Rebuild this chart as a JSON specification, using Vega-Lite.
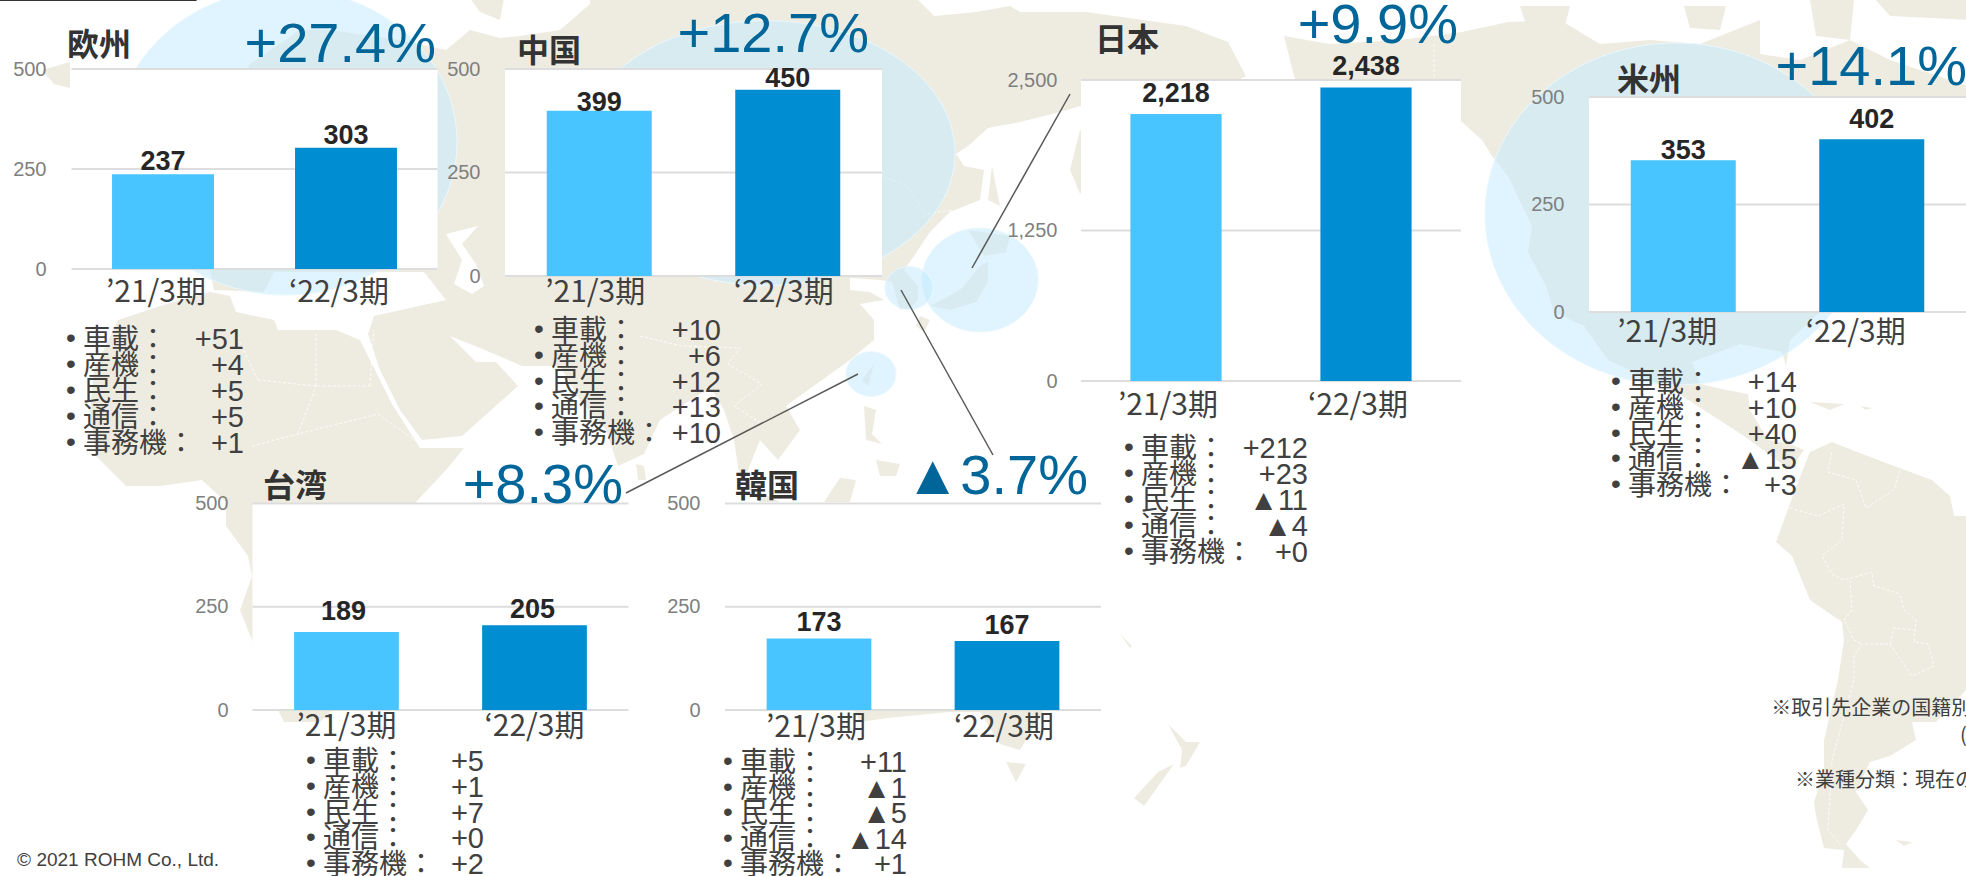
{"$schema":"https://vega.github.io/schema/vega-lite/v6.json","width":1966,"height":876,"padding":0,"autosize":{"type":"none"},"background":"#FFFFFF",
"config":{"view":{"stroke":null},"scale":{"pointPadding":0},
"axis":{"domain":false,"ticks":false,"tickSize":0,"grid":false,"labelOverlap":false,"labelFlush":false,"labelBound":false},
"axisX":{"labelAngle":0,"labelFont":"Noto Sans CJK JP","labelFontSize":30,"labelColor":"#404040"},
"axisY":{"labelFont":"Liberation Sans","labelFontSize":20,"labelColor":"#7F7F7F"},
"style":{"barlabel":{"font":"Liberation Sans","fontWeight":"bold","fontSize":27,"align":"center","baseline":"alphabetic"},
"ttl":{"font":"Noto Sans CJK JP","fontWeight":"bold","fontSize":32,"align":"left","baseline":"middle"},
"pct":{"font":"Liberation Sans","fontSize":56,"align":"right","baseline":"middle"},
"list":{"font":"Noto Sans CJK JP","fontSize":28,"align":"left","baseline":"middle"},
"val":{"font":"Liberation Sans","fontSize":29,"align":"right","baseline":"middle"},
"bul":{"font":"Liberation Sans","fontSize":28,"align":"center","baseline":"middle"},
"note":{"font":"Noto Sans CJK JP","fontSize":20,"align":"left","baseline":"middle"}}},
"datasets":{
"ticks500":[{"tick":0},{"tick":250},{"tick":500}],
"ticks2500":[{"tick":0},{"tick":1250},{"tick":2500}],
"eu":[{"region":"欧州","change":"+27.4%"}],"cn":[{"region":"中国","change":"+12.7%"}],"jp":[{"region":"日本","change":"+9.9%"}],"us":[{"region":"米州","change":"+14.1%"}],"tw":[{"region":"台湾","change":"+8.3%"}],"kr":[{"region":"韓国","change":"▲3.7%"}],
"sEu":[{"period":"’21/3期","sales":237},{"period":"‘22/3期","sales":303}],
"sCn":[{"period":"’21/3期","sales":399},{"period":"‘22/3期","sales":450}],
"sJp":[{"period":"’21/3期","sales":2218},{"period":"‘22/3期","sales":2438}],
"sUs":[{"period":"’21/3期","sales":353},{"period":"‘22/3期","sales":402}],
"sTw":[{"period":"’21/3期","sales":189},{"period":"‘22/3期","sales":205}],
"sKr":[{"period":"’21/3期","sales":173},{"period":"‘22/3期","sales":167}],
"bubbles":[{"region":"欧州","growth":27.4,"lon":143,"lat":71},{"region":"中国","growth":12.7,"lon":383,"lat":76.5},{"region":"日本","growth":9.9,"lon":490,"lat":140},{"region":"米州","growth":14.1,"lon":838,"lat":107},{"region":"台湾","growth":8.3,"lon":435.5,"lat":187},{"region":"韓国","growth":-3.7,"lon":454.5,"lat":144}],
"lEu":[{"segment":"車載：","change":"+51"},{"segment":"産機：","change":"+4"},{"segment":"民生：","change":"+5"},{"segment":"通信：","change":"+5"},{"segment":"事務機：","change":"+1"}],
"lCn":[{"segment":"車載：","change":"+10"},{"segment":"産機：","change":"+6"},{"segment":"民生：","change":"+12"},{"segment":"通信：","change":"+13"},{"segment":"事務機：","change":"+10"}],
"lJp":[{"segment":"車載：","change":"+212"},{"segment":"産機：","change":"+23"},{"segment":"民生：","change":"▲11"},{"segment":"通信：","change":"▲4"},{"segment":"事務機：","change":"+0"}],
"lUs":[{"segment":"車載：","change":"+14"},{"segment":"産機：","change":"+10"},{"segment":"民生：","change":"+40"},{"segment":"通信：","change":"▲15"},{"segment":"事務機：","change":"+3"}],
"lTw":[{"segment":"車載：","change":"+5"},{"segment":"産機：","change":"+1"},{"segment":"民生：","change":"+7"},{"segment":"通信：","change":"+0"},{"segment":"事務機：","change":"+2"}],
"lKr":[{"segment":"車載：","change":"+11"},{"segment":"産機：","change":"▲1"},{"segment":"民生：","change":"▲5"},{"segment":"通信：","change":"▲14"},{"segment":"事務機：","change":"+1"}]
},
"resolve":{"scale":{"x":"independent","y":"independent"},"axis":{"x":"independent","y":"independent"}},
"layer":[
{"data":{"values":{"type":"FeatureCollection","features":[
{"type":"Feature","properties":{"name":"Eurasia"},"geometry":{"type":"Polygon","coordinates":[[[223,25],[200,20],[165,15],[150,15],[125,32],[100,75],[105,135],[107,145],[132,146],[137,136],[212,136],[223,150],[187,158],[184,167],[190,185],[200,205],[211,220],[231,218],[259,193],[248,181],[238,181],[225,168],[240,174],[261,183],[280,183],[290,200],[303,215],[309,233],[322,227],[330,210],[350,197],[356,195],[362,205],[367,220],[370,240],[374,235],[380,220],[389,230],[400,215],[393,203],[404,195],[425,180],[437,170],[437,160],[430,152],[442,150],[435,146],[425,145],[425,139],[440,140],[446,141],[450,155],[455,154],[459,150],[459,143],[452,135],[457,128],[465,116],[475,106],[490,100],[492,85],[482,83],[478,77],[484,73],[494,64],[510,61],[530,56],[540,53],[600,50],[623,38],[614,21],[593,13],[543,6],[510,6],[505,3],[488,6],[467,8],[459,0],[295,-2],[295,2],[280,15],[260,18],[250,19],[235,15],[223,25]],[[223,117],[239,113],[231,122],[238,132],[242,143],[236,147],[227,142],[231,130],[223,117]]]}},
{"type":"Feature","properties":{"name":"Africa"},"geometry":{"type":"Polygon","coordinates":[[[59,160],[80,153],[105,146],[115,148],[118,156],[137,160],[139,165],[168,165],[180,170],[196,202],[210,224],[232,224],[223,235],[208,251],[195,300],[172,350],[160,361],[142,361],[139,355],[126,320],[120,305],[126,288],[124,278],[113,263],[113,251],[101,240],[80,243],[63,243],[48,228],[45,205],[47,185],[59,160]]]}},
{"type":"Feature","properties":{"name":"North America"},"geometry":{"type":"Polygon","coordinates":[[[642,18],[665,22],[700,20],[731,16],[754,11],[780,10],[800,22],[825,20],[850,22],[880,10],[880,27],[900,30],[925,20],[945,30],[990,45],[990,100],[910,156],[895,170],[893,183],[891,176],[870,172],[846,181],[850,192],[863,195],[874,197],[875,205],[884,220],[895,222],[902,225],[895,235],[872,218],[838,196],[804,180],[792,163],[777,156],[773,143],[764,126],[766,113],[754,88],[746,78],[741,70],[731,61],[650,50],[642,18]]]}},
{"type":"Feature","properties":{"name":"South America"},"geometry":{"type":"Polygon","coordinates":[[[916,221],[926,225],[947,233],[966,240],[975,248],[977,258],[983,258],[1000,265],[1010,300],[1000,345],[983,345],[968,361],[956,361],[958,370],[945,378],[935,381],[928,396],[934,405],[928,415],[923,422],[930,430],[935,434],[921,434],[922,425],[912,424],[908,408],[907,401],[912,386],[912,370],[919,340],[922,320],[921,311],[905,300],[896,278],[888,271],[892,260],[899,241],[905,226],[916,221]]]}},
{"type":"Feature","properties":{"name":"Australia"},"geometry":{"type":"Polygon","coordinates":[[[427,355],[430,361],[444,359],[475,356],[490,356],[500,372],[510,375],[521,357],[540,320],[520,260],[430,300],[427,355]]]}},
{"type":"Feature","properties":{"name":"Islands"},"geometry":{"type":"MultiPolygon","coordinates":[
[[[21,35],[35,31],[35,44],[27,42],[21,35]]],
[[[235,-1],[252,-1],[250,10],[240,6],[235,-1]]],
[[[484,115],[505,118],[503,126],[492,128],[484,115]]],
[[[494,131],[494,141],[488,151],[475,155],[465,153],[480,145],[490,133],[494,131]]],
[[[460,158],[465,160],[462,166],[458,163],[460,158]]],
[[[496,83],[500,103],[494,100],[496,83]]],
[[[540,65],[535,85],[540,97],[555,75],[540,65]]],
[[[437,182],[434,193],[431,190],[437,182]]],
[[[432,203],[438,205],[436,217],[441,222],[433,220],[432,203]]],
[[[438,230],[450,232],[448,238],[440,238],[438,230]]],
[[[412,251],[425,251],[428,240],[420,239],[412,251]]],
[[[372,242],[380,251],[390,251],[372,242]]],
[[[318,232],[322,233],[323,240],[319,240],[318,232]]],
[[[503,381],[513,382],[508,391],[503,381]]],
[[[584,362],[593,371],[600,371],[593,383],[590,384],[591,375],[584,362]]],
[[[587,382],[572,403],[567,399],[579,386],[587,382]]],
[[[560,317],[566,323],[565,324],[560,317]]],
[[[760,3],[785,3],[782,15],[765,18],[760,3]]],
[[[842,3],[863,3],[860,15],[845,14],[842,3]]],
[[[905,0],[927,0],[925,20],[908,18],[905,0]]],
[[[937,-1],[985,-1],[985,10],[945,8],[937,-1]]],
[[[905,201],[922,202],[915,205],[905,201]]],
[[[930,203],[936,204],[933,205],[930,203]]],
[[[948,420],[956,421],[952,423],[948,420]]]]}}
]},"format":{"type":"json","property":"features"}},
"projection":{"type":"identity","scale":2,"translate":[0,0]},"mark":{"type":"geoshape","fill":"#EEECE1","stroke":null},"encoding":{}},
{"data":{"values":{"type":"FeatureCollection","features":[
{"type":"Feature","properties":{"name":"Borders"},"geometry":{"type":"MultiLineString","coordinates":[
[[916,226],[914,236],[928,240],[933,254],[947,245],[950,235]],
[[895,254],[909,258],[922,252],[921,270],[911,278],[916,287],[922,290],[936,286],[937,293],[950,297],[952,305],[958,310],[957,321],[964,322],[967,333],[956,338],[945,322],[931,322],[927,328],[927,340],[916,380],[914,415],[920,422]],
[[925,290],[926,305],[922,310],[927,320],[931,322]],[[945,322],[947,314],[957,315]],
[[129,190],[158,193],[185,193]],[[158,193],[158,167]],[[129,190],[118,167]],[[185,193],[187,165]],[[149,217],[158,193]],[[189,207],[210,222]],[[126,223],[149,217],[189,207]],
[[320,168],[341,173],[370,174],[364,182],[381,192],[367,203],[381,212]],[[440,87],[453,93],[463,107],[476,105],[465,117]],[[717,22],[717,40]]]}}
]},"format":{"type":"json","property":"features"}},
"projection":{"type":"identity","scale":2,"translate":[0,0]},"mark":{"type":"geoshape","filled":false,"stroke":"#FFFFFF","strokeWidth":0.8,"strokeDash":[3,2]},"encoding":{}},
{"data":{"name":"bubbles"},"transform":[{"filter":"datum.region!=='中国'"}],"projection":{"type":"identity","scale":2,"translate":[0,0]},
"mark":{"type":"point","shape":"M-1,0A1,0.895,0,1,1,1,0A1,0.895,0,1,1,-1,0Z","filled":true,"fill":"#C2E9FE","fillOpacity":0.52,"opacity":1,"stroke":"#EAF8FF","strokeWidth":1},
"encoding":{"longitude":{"field":"lon","type":"quantitative"},"latitude":{"field":"lat","type":"quantitative"},"size":{"field":"growth","type":"quantitative","legend":null,"scale":{"domain":[-3.7,8.3,9.9,12.7,14.1,27.4],"range":[2304,2500,13456,142884,145924,116964]}}}},
{"data":{"name":"bubbles"},"transform":[{"filter":"datum.region==='中国'"}],"projection":{"type":"identity","scale":2,"translate":[0,0]},
"mark":{"type":"point","shape":"M-1,0A1,0.7,0,1,1,1,0A1,0.7,0,1,1,-1,0Z","filled":true,"fill":"#C2E9FE","fillOpacity":0.52,"opacity":1,"stroke":"#EAF8FF","strokeWidth":1},
"encoding":{"longitude":{"field":"lon","type":"quantitative"},"latitude":{"field":"lat","type":"quantitative"},"size":{"field":"growth","type":"quantitative","legend":null,"scale":{"domain":[-3.7,8.3,9.9,12.7,14.1,27.4],"range":[2304,2500,13456,142884,145924,116964]}}}},
{"data":{"values":{"type":"FeatureCollection","features":[
{"type":"Feature","properties":{"to":"日本"},"geometry":{"type":"LineString","coordinates":[[535,47],[486,134]]}},
{"type":"Feature","properties":{"to":"韓国"},"geometry":{"type":"LineString","coordinates":[[450.5,145],[496.5,227.5]]}},
{"type":"Feature","properties":{"to":"台湾"},"geometry":{"type":"LineString","coordinates":[[429,187],[313,246.5]]}}
]},"format":{"type":"json","property":"features"}},
"projection":{"type":"identity","scale":2,"translate":[0,0]},"mark":{"type":"geoshape","filled":false,"stroke":"#595959","strokeWidth":1.5},"encoding":{}},

{"data":{"name":"eu"},"mark":{"type":"rect","fill":"#FFFFFF"},"encoding":{"x":{"datum":0,"type":"quantitative","axis":null,"scale":{"domain":[0,1],"range":[71.5,437.5]}},"x2":{"datum":1},"y":{"datum":0,"type":"quantitative","title":null,"scale":{"domain":[0,500],"range":[269,69],"nice":false},"axis":{"orient":"left","zindex":1,"values":[0,250,500],"format":",.0f","offset":-71.5,"labelPadding":25.5}},"y2":{"datum":500}}},
{"data":{"name":"ticks500"},"mark":{"type":"rule","stroke":"#DDDDDD","strokeWidth":2},"encoding":{"x":{"datum":0,"type":"quantitative","axis":null,"scale":{"domain":[0,1],"range":[71.5,437.5]}},"x2":{"datum":1},"y":{"field":"tick","type":"quantitative","axis":null,"scale":{"domain":[0,500],"range":[269,69],"nice":false}}}},
{"data":{"name":"eu"},"mark":{"type":"text","style":"ttl","color":"#333333","dx":-4.5,"dy":-23},"encoding":{"x":{"datum":0,"type":"quantitative","axis":null,"scale":{"domain":[0,1],"range":[71.5,437.5]}},"y":{"datum":500,"type":"quantitative","axis":null,"scale":{"domain":[0,500],"range":[269,69],"nice":false}},"text":{"field":"region"}}},
{"data":{"name":"eu"},"mark":{"type":"text","style":"pct","color":"#006699","dx":-1.5,"dy":-24},"encoding":{"x":{"datum":1,"type":"quantitative","axis":null,"scale":{"domain":[0,1],"range":[71.5,437.5]}},"y":{"datum":500,"type":"quantitative","axis":null,"scale":{"domain":[0,500],"range":[269,69],"nice":false}},"text":{"field":"change"}}},
{"data":{"name":"sEu"},"mark":{"type":"bar"},"encoding":{"x":{"field":"period","type":"nominal","title":null,"scale":{"type":"band","domain":["’21/3期","‘22/3期"],"range":[71.5,437.5],"paddingInner":0.443,"paddingOuter":0.2215},"axis":{"orient":"bottom","zindex":1,"offset":-607,"labelPadding":8,"labelOffset":-7}},"y":{"field":"sales","type":"quantitative","axis":null,"scale":{"domain":[0,500],"range":[269,69],"nice":false}},"color":{"field":"period","type":"nominal","legend":null,"scale":{"domain":["’21/3期","‘22/3期"],"range":["#48C4FF","#008DD1"]}}}},
{"data":{"name":"sEu"},"mark":{"type":"text","style":"barlabel","color":"#262626","dy":-4},"encoding":{"x":{"field":"period","type":"nominal","axis":null,"scale":{"type":"band","domain":["’21/3期","‘22/3期"],"range":[71.5,437.5],"paddingInner":0.443,"paddingOuter":0.2215}},"y":{"field":"sales","type":"quantitative","axis":null,"scale":{"domain":[0,500],"range":[269,69],"nice":false}},"text":{"field":"sales","format":","}}},
{"data":{"name":"lEu"},"mark":{"type":"text","style":"bul","color":"#404040","dx":-12,"text":"•"},"encoding":{"x":{"datum":0,"type":"quantitative","axis":null,"scale":{"domain":[0,1],"range":[83,244]}},"y":{"field":"segment","type":"nominal","axis":null,"scale":{"type":"point","domain":["車載：","産機：","民生：","通信：","事務機："],"range":[339,443]}}}},
{"data":{"name":"lEu"},"mark":{"type":"text","style":"list","color":"#404040","dy":2},"encoding":{"x":{"datum":0,"type":"quantitative","axis":null,"scale":{"domain":[0,1],"range":[83,244]}},"y":{"field":"segment","type":"nominal","axis":null,"scale":{"type":"point","domain":["車載：","産機：","民生：","通信：","事務機："],"range":[339,443]}},"text":{"field":"segment"}}},
{"data":{"name":"lEu"},"mark":{"type":"text","style":"val","color":"#404040","dy":1},"encoding":{"x":{"datum":1,"type":"quantitative","axis":null,"scale":{"domain":[0,1],"range":[83,244]}},"y":{"field":"segment","type":"nominal","axis":null,"scale":{"type":"point","domain":["車載：","産機：","民生：","通信：","事務機："],"range":[339,443]}},"text":{"field":"change"}}},

{"data":{"name":"cn"},"mark":{"type":"rect","fill":"#FFFFFF"},"encoding":{"x":{"datum":0,"type":"quantitative","axis":null,"scale":{"domain":[0,1],"range":[505,882]}},"x2":{"datum":1},"y":{"datum":0,"type":"quantitative","title":null,"scale":{"domain":[0,500],"range":[276,69],"nice":false},"axis":{"orient":"left","zindex":1,"values":[0,250,500],"format":",.0f","offset":-505,"labelPadding":25}},"y2":{"datum":500}}},
{"data":{"name":"ticks500"},"mark":{"type":"rule","stroke":"#DDDDDD","strokeWidth":2},"encoding":{"x":{"datum":0,"type":"quantitative","axis":null,"scale":{"domain":[0,1],"range":[505,882]}},"x2":{"datum":1},"y":{"field":"tick","type":"quantitative","axis":null,"scale":{"domain":[0,500],"range":[276,69],"nice":false}}}},
{"data":{"name":"cn"},"mark":{"type":"text","style":"ttl","color":"#333333","dx":12,"dy":-17},"encoding":{"x":{"datum":0,"type":"quantitative","axis":null,"scale":{"domain":[0,1],"range":[505,882]}},"y":{"datum":500,"type":"quantitative","axis":null,"scale":{"domain":[0,500],"range":[276,69],"nice":false}},"text":{"field":"region"}}},
{"data":{"name":"cn"},"mark":{"type":"text","style":"pct","color":"#006699","dx":-13,"dy":-34},"encoding":{"x":{"datum":1,"type":"quantitative","axis":null,"scale":{"domain":[0,1],"range":[505,882]}},"y":{"datum":500,"type":"quantitative","axis":null,"scale":{"domain":[0,500],"range":[276,69],"nice":false}},"text":{"field":"change"}}},
{"data":{"name":"sCn"},"mark":{"type":"bar"},"encoding":{"x":{"field":"period","type":"nominal","title":null,"scale":{"type":"band","domain":["’21/3期","‘22/3期"],"range":[505,882],"paddingInner":0.443,"paddingOuter":0.2215},"axis":{"orient":"bottom","zindex":1,"offset":-600,"labelPadding":1,"labelOffset":-4}},"y":{"field":"sales","type":"quantitative","axis":null,"scale":{"domain":[0,500],"range":[276,69],"nice":false}},"color":{"field":"period","type":"nominal","legend":null,"scale":{"domain":["’21/3期","‘22/3期"],"range":["#48C4FF","#008DD1"]}}}},
{"data":{"name":"sCn"},"transform":[{"filter":"datum.sales===399"}],"mark":{"type":"text","style":"barlabel","color":"#262626","dy":0},"encoding":{"x":{"field":"period","type":"nominal","axis":null,"scale":{"type":"band","domain":["’21/3期","‘22/3期"],"range":[505,882],"paddingInner":0.443,"paddingOuter":0.2215}},"y":{"field":"sales","type":"quantitative","axis":null,"scale":{"domain":[0,500],"range":[276,69],"nice":false}},"text":{"field":"sales","format":","}}},
{"data":{"name":"sCn"},"transform":[{"filter":"datum.sales===450"}],"mark":{"type":"text","style":"barlabel","color":"#262626","dy":-3},"encoding":{"x":{"field":"period","type":"nominal","axis":null,"scale":{"type":"band","domain":["’21/3期","‘22/3期"],"range":[505,882],"paddingInner":0.443,"paddingOuter":0.2215}},"y":{"field":"sales","type":"quantitative","axis":null,"scale":{"domain":[0,500],"range":[276,69],"nice":false}},"text":{"field":"sales","format":","}}},
{"data":{"name":"lCn"},"mark":{"type":"text","style":"bul","color":"#404040","dx":-12,"text":"•"},"encoding":{"x":{"datum":0,"type":"quantitative","axis":null,"scale":{"domain":[0,1],"range":[551,721]}},"y":{"field":"segment","type":"nominal","axis":null,"scale":{"type":"point","domain":["車載：","産機：","民生：","通信：","事務機："],"range":[330,433]}}}},
{"data":{"name":"lCn"},"mark":{"type":"text","style":"list","color":"#404040","dy":2},"encoding":{"x":{"datum":0,"type":"quantitative","axis":null,"scale":{"domain":[0,1],"range":[551,721]}},"y":{"field":"segment","type":"nominal","axis":null,"scale":{"type":"point","domain":["車載：","産機：","民生：","通信：","事務機："],"range":[330,433]}},"text":{"field":"segment"}}},
{"data":{"name":"lCn"},"mark":{"type":"text","style":"val","color":"#404040","dy":1},"encoding":{"x":{"datum":1,"type":"quantitative","axis":null,"scale":{"domain":[0,1],"range":[551,721]}},"y":{"field":"segment","type":"nominal","axis":null,"scale":{"type":"point","domain":["車載：","産機：","民生：","通信：","事務機："],"range":[330,433]}},"text":{"field":"change"}}},

{"data":{"name":"jp"},"mark":{"type":"rect","fill":"#FFFFFF"},"encoding":{"x":{"datum":0,"type":"quantitative","axis":null,"scale":{"domain":[0,1],"range":[1081,1461]}},"x2":{"datum":1},"y":{"datum":0,"type":"quantitative","title":null,"scale":{"domain":[0,2500],"range":[381,80],"nice":false},"axis":{"orient":"left","zindex":1,"values":[0,1250,2500],"format":",.0f","offset":-1081,"labelPadding":24}},"y2":{"datum":2500}}},
{"data":{"name":"ticks2500"},"mark":{"type":"rule","stroke":"#DDDDDD","strokeWidth":2},"encoding":{"x":{"datum":0,"type":"quantitative","axis":null,"scale":{"domain":[0,1],"range":[1081,1461]}},"x2":{"datum":1},"y":{"field":"tick","type":"quantitative","axis":null,"scale":{"domain":[0,2500],"range":[381,80],"nice":false}}}},
{"data":{"name":"jp"},"mark":{"type":"text","style":"ttl","color":"#333333","dx":14,"dy":-39},"encoding":{"x":{"datum":0,"type":"quantitative","axis":null,"scale":{"domain":[0,1],"range":[1081,1461]}},"y":{"datum":2500,"type":"quantitative","axis":null,"scale":{"domain":[0,2500],"range":[381,80],"nice":false}},"text":{"field":"region"}}},
{"data":{"name":"jp"},"mark":{"type":"text","style":"pct","color":"#006699","dx":-3,"dy":-54},"encoding":{"x":{"datum":1,"type":"quantitative","axis":null,"scale":{"domain":[0,1],"range":[1081,1461]}},"y":{"datum":2500,"type":"quantitative","axis":null,"scale":{"domain":[0,2500],"range":[381,80],"nice":false}},"text":{"field":"change"}}},
{"data":{"name":"sJp"},"mark":{"type":"bar"},"encoding":{"x":{"field":"period","type":"nominal","title":null,"scale":{"type":"band","domain":["’21/3期","‘22/3期"],"range":[1081,1461],"paddingInner":0.52,"paddingOuter":0.26},"axis":{"orient":"bottom","zindex":1,"offset":-495,"labelPadding":9,"labelOffset":-8}},"y":{"field":"sales","type":"quantitative","axis":null,"scale":{"domain":[0,2500],"range":[381,80],"nice":false}},"color":{"field":"period","type":"nominal","legend":null,"scale":{"domain":["’21/3期","‘22/3期"],"range":["#48C4FF","#008DD1"]}}}},
{"data":{"name":"sJp"},"mark":{"type":"text","style":"barlabel","color":"#262626","dy":-12},"encoding":{"x":{"field":"period","type":"nominal","axis":null,"scale":{"type":"band","domain":["’21/3期","‘22/3期"],"range":[1081,1461],"paddingInner":0.52,"paddingOuter":0.26}},"y":{"field":"sales","type":"quantitative","axis":null,"scale":{"domain":[0,2500],"range":[381,80],"nice":false}},"text":{"field":"sales","format":","}}},
{"data":{"name":"lJp"},"mark":{"type":"text","style":"bul","color":"#404040","dx":-12,"text":"•"},"encoding":{"x":{"datum":0,"type":"quantitative","axis":null,"scale":{"domain":[0,1],"range":[1141,1308]}},"y":{"field":"segment","type":"nominal","axis":null,"scale":{"type":"point","domain":["車載：","産機：","民生：","通信：","事務機："],"range":[448,552]}}}},
{"data":{"name":"lJp"},"mark":{"type":"text","style":"list","color":"#404040","dy":2},"encoding":{"x":{"datum":0,"type":"quantitative","axis":null,"scale":{"domain":[0,1],"range":[1141,1308]}},"y":{"field":"segment","type":"nominal","axis":null,"scale":{"type":"point","domain":["車載：","産機：","民生：","通信：","事務機："],"range":[448,552]}},"text":{"field":"segment"}}},
{"data":{"name":"lJp"},"mark":{"type":"text","style":"val","color":"#404040","dy":1},"encoding":{"x":{"datum":1,"type":"quantitative","axis":null,"scale":{"domain":[0,1],"range":[1141,1308]}},"y":{"field":"segment","type":"nominal","axis":null,"scale":{"type":"point","domain":["車載：","産機：","民生：","通信：","事務機："],"range":[448,552]}},"text":{"field":"change"}}},

{"data":{"name":"us"},"mark":{"type":"rect","fill":"#FFFFFF"},"encoding":{"x":{"datum":0,"type":"quantitative","axis":null,"scale":{"domain":[0,1],"range":[1589,1966]}},"x2":{"datum":1},"y":{"datum":0,"type":"quantitative","title":null,"scale":{"domain":[0,500],"range":[312,97],"nice":false},"axis":{"orient":"left","zindex":1,"values":[0,250,500],"format":",.0f","offset":-1589,"labelPadding":25}},"y2":{"datum":500}}},
{"data":{"name":"ticks500"},"mark":{"type":"rule","stroke":"#DDDDDD","strokeWidth":2},"encoding":{"x":{"datum":0,"type":"quantitative","axis":null,"scale":{"domain":[0,1],"range":[1589,1966]}},"x2":{"datum":1},"y":{"field":"tick","type":"quantitative","axis":null,"scale":{"domain":[0,500],"range":[312,97],"nice":false}}}},
{"data":{"name":"us"},"mark":{"type":"text","style":"ttl","color":"#333333","dx":28,"dy":-16},"encoding":{"x":{"datum":0,"type":"quantitative","axis":null,"scale":{"domain":[0,1],"range":[1589,1966]}},"y":{"datum":500,"type":"quantitative","axis":null,"scale":{"domain":[0,500],"range":[312,97],"nice":false}},"text":{"field":"region"}}},
{"data":{"name":"us"},"mark":{"type":"text","style":"pct","color":"#006699","dx":1,"dy":-29},"encoding":{"x":{"datum":1,"type":"quantitative","axis":null,"scale":{"domain":[0,1],"range":[1589,1966]}},"y":{"datum":500,"type":"quantitative","axis":null,"scale":{"domain":[0,500],"range":[312,97],"nice":false}},"text":{"field":"change"}}},
{"data":{"name":"sUs"},"mark":{"type":"bar"},"encoding":{"x":{"field":"period","type":"nominal","title":null,"scale":{"type":"band","domain":["’21/3期","‘22/3期"],"range":[1589,1966],"paddingInner":0.443,"paddingOuter":0.2215},"axis":{"orient":"bottom","zindex":1,"offset":-564,"labelPadding":5,"labelOffset":-16}},"y":{"field":"sales","type":"quantitative","axis":null,"scale":{"domain":[0,500],"range":[312,97],"nice":false}},"color":{"field":"period","type":"nominal","legend":null,"scale":{"domain":["’21/3期","‘22/3期"],"range":["#48C4FF","#008DD1"]}}}},
{"data":{"name":"sUs"},"transform":[{"filter":"datum.sales===353"}],"mark":{"type":"text","style":"barlabel","color":"#262626","dy":-1},"encoding":{"x":{"field":"period","type":"nominal","axis":null,"scale":{"type":"band","domain":["’21/3期","‘22/3期"],"range":[1589,1966],"paddingInner":0.443,"paddingOuter":0.2215}},"y":{"field":"sales","type":"quantitative","axis":null,"scale":{"domain":[0,500],"range":[312,97],"nice":false}},"text":{"field":"sales","format":","}}},
{"data":{"name":"sUs"},"transform":[{"filter":"datum.sales===402"}],"mark":{"type":"text","style":"barlabel","color":"#262626","dy":-11},"encoding":{"x":{"field":"period","type":"nominal","axis":null,"scale":{"type":"band","domain":["’21/3期","‘22/3期"],"range":[1589,1966],"paddingInner":0.443,"paddingOuter":0.2215}},"y":{"field":"sales","type":"quantitative","axis":null,"scale":{"domain":[0,500],"range":[312,97],"nice":false}},"text":{"field":"sales","format":","}}},
{"data":{"name":"lUs"},"mark":{"type":"text","style":"bul","color":"#404040","dx":-12,"text":"•"},"encoding":{"x":{"datum":0,"type":"quantitative","axis":null,"scale":{"domain":[0,1],"range":[1628,1797]}},"y":{"field":"segment","type":"nominal","axis":null,"scale":{"type":"point","domain":["車載：","産機：","民生：","通信：","事務機："],"range":[382,485]}}}},
{"data":{"name":"lUs"},"mark":{"type":"text","style":"list","color":"#404040","dy":2},"encoding":{"x":{"datum":0,"type":"quantitative","axis":null,"scale":{"domain":[0,1],"range":[1628,1797]}},"y":{"field":"segment","type":"nominal","axis":null,"scale":{"type":"point","domain":["車載：","産機：","民生：","通信：","事務機："],"range":[382,485]}},"text":{"field":"segment"}}},
{"data":{"name":"lUs"},"mark":{"type":"text","style":"val","color":"#404040","dy":1},"encoding":{"x":{"datum":1,"type":"quantitative","axis":null,"scale":{"domain":[0,1],"range":[1628,1797]}},"y":{"field":"segment","type":"nominal","axis":null,"scale":{"type":"point","domain":["車載：","産機：","民生：","通信：","事務機："],"range":[382,485]}},"text":{"field":"change"}}},

{"data":{"name":"tw"},"mark":{"type":"rect","fill":"#FFFFFF"},"encoding":{"x":{"datum":0,"type":"quantitative","axis":null,"scale":{"domain":[0,1],"range":[252.5,628.5]}},"x2":{"datum":1},"y":{"datum":0,"type":"quantitative","title":null,"scale":{"domain":[0,500],"range":[710,503.5],"nice":false},"axis":{"orient":"left","zindex":1,"values":[0,250,500],"format":",.0f","offset":-252.5,"labelPadding":24.5}},"y2":{"datum":500}}},
{"data":{"name":"ticks500"},"mark":{"type":"rule","stroke":"#DDDDDD","strokeWidth":2},"encoding":{"x":{"datum":0,"type":"quantitative","axis":null,"scale":{"domain":[0,1],"range":[252.5,628.5]}},"x2":{"datum":1},"y":{"field":"tick","type":"quantitative","axis":null,"scale":{"domain":[0,500],"range":[710,503.5],"nice":false}}}},
{"data":{"name":"tw"},"mark":{"type":"text","style":"ttl","color":"#333333","dx":10.5,"dy":-16.5},"encoding":{"x":{"datum":0,"type":"quantitative","axis":null,"scale":{"domain":[0,1],"range":[252.5,628.5]}},"y":{"datum":500,"type":"quantitative","axis":null,"scale":{"domain":[0,500],"range":[710,503.5],"nice":false}},"text":{"field":"region"}}},
{"data":{"name":"tw"},"mark":{"type":"text","style":"pct","color":"#006699","dx":-5.5,"dy":-17.5},"encoding":{"x":{"datum":1,"type":"quantitative","axis":null,"scale":{"domain":[0,1],"range":[252.5,628.5]}},"y":{"datum":500,"type":"quantitative","axis":null,"scale":{"domain":[0,500],"range":[710,503.5],"nice":false}},"text":{"field":"change"}}},
{"data":{"name":"sTw"},"mark":{"type":"bar"},"encoding":{"x":{"field":"period","type":"nominal","title":null,"scale":{"type":"band","domain":["’21/3期","‘22/3期"],"range":[252.5,628.5],"paddingInner":0.443,"paddingOuter":0.2215},"axis":{"orient":"bottom","zindex":1,"offset":-166,"labelPadding":1,"labelOffset":0}},"y":{"field":"sales","type":"quantitative","axis":null,"scale":{"domain":[0,500],"range":[710,503.5],"nice":false}},"color":{"field":"period","type":"nominal","legend":null,"scale":{"domain":["’21/3期","‘22/3期"],"range":["#48C4FF","#008DD1"]}}}},
{"data":{"name":"sTw"},"transform":[{"filter":"datum.sales===189"}],"mark":{"type":"text","style":"barlabel","color":"#262626","dx":-3,"dy":-12},"encoding":{"x":{"field":"period","type":"nominal","axis":null,"scale":{"type":"band","domain":["’21/3期","‘22/3期"],"range":[252.5,628.5],"paddingInner":0.443,"paddingOuter":0.2215}},"y":{"field":"sales","type":"quantitative","axis":null,"scale":{"domain":[0,500],"range":[710,503.5],"nice":false}},"text":{"field":"sales","format":","}}},
{"data":{"name":"sTw"},"transform":[{"filter":"datum.sales===205"}],"mark":{"type":"text","style":"barlabel","color":"#262626","dx":-2,"dy":-7},"encoding":{"x":{"field":"period","type":"nominal","axis":null,"scale":{"type":"band","domain":["’21/3期","‘22/3期"],"range":[252.5,628.5],"paddingInner":0.443,"paddingOuter":0.2215}},"y":{"field":"sales","type":"quantitative","axis":null,"scale":{"domain":[0,500],"range":[710,503.5],"nice":false}},"text":{"field":"sales","format":","}}},
{"data":{"name":"lTw"},"mark":{"type":"text","style":"bul","color":"#404040","dx":-12,"text":"•"},"encoding":{"x":{"datum":0,"type":"quantitative","axis":null,"scale":{"domain":[0,1],"range":[323,484]}},"y":{"field":"segment","type":"nominal","axis":null,"scale":{"type":"point","domain":["車載：","産機：","民生：","通信：","事務機："],"range":[761,864]}}}},
{"data":{"name":"lTw"},"mark":{"type":"text","style":"list","color":"#404040","dy":2},"encoding":{"x":{"datum":0,"type":"quantitative","axis":null,"scale":{"domain":[0,1],"range":[323,484]}},"y":{"field":"segment","type":"nominal","axis":null,"scale":{"type":"point","domain":["車載：","産機：","民生：","通信：","事務機："],"range":[761,864]}},"text":{"field":"segment"}}},
{"data":{"name":"lTw"},"mark":{"type":"text","style":"val","color":"#404040","dy":1},"encoding":{"x":{"datum":1,"type":"quantitative","axis":null,"scale":{"domain":[0,1],"range":[323,484]}},"y":{"field":"segment","type":"nominal","axis":null,"scale":{"type":"point","domain":["車載：","産機：","民生：","通信：","事務機："],"range":[761,864]}},"text":{"field":"change"}}},

{"data":{"name":"kr"},"mark":{"type":"rect","fill":"#FFFFFF"},"encoding":{"x":{"datum":0,"type":"quantitative","axis":null,"scale":{"domain":[0,1],"range":[725,1101]}},"x2":{"datum":1},"y":{"datum":0,"type":"quantitative","title":null,"scale":{"domain":[0,500],"range":[710,503.5],"nice":false},"axis":{"orient":"left","zindex":1,"values":[0,250,500],"format":",.0f","offset":-725,"labelPadding":25}},"y2":{"datum":500}}},
{"data":{"name":"ticks500"},"mark":{"type":"rule","stroke":"#DDDDDD","strokeWidth":2},"encoding":{"x":{"datum":0,"type":"quantitative","axis":null,"scale":{"domain":[0,1],"range":[725,1101]}},"x2":{"datum":1},"y":{"field":"tick","type":"quantitative","axis":null,"scale":{"domain":[0,500],"range":[710,503.5],"nice":false}}}},
{"data":{"name":"kr"},"mark":{"type":"text","style":"ttl","color":"#333333","dx":10,"dy":-16.5},"encoding":{"x":{"datum":0,"type":"quantitative","axis":null,"scale":{"domain":[0,1],"range":[725,1101]}},"y":{"datum":500,"type":"quantitative","axis":null,"scale":{"domain":[0,500],"range":[710,503.5],"nice":false}},"text":{"field":"region"}}},
{"data":{"name":"kr"},"mark":{"type":"text","style":"pct","color":"#006699","dx":-13,"dy":-26.5},"encoding":{"x":{"datum":1,"type":"quantitative","axis":null,"scale":{"domain":[0,1],"range":[725,1101]}},"y":{"datum":500,"type":"quantitative","axis":null,"scale":{"domain":[0,500],"range":[710,503.5],"nice":false}},"text":{"field":"change"}}},
{"data":{"name":"sKr"},"mark":{"type":"bar"},"encoding":{"x":{"field":"period","type":"nominal","title":null,"scale":{"type":"band","domain":["’21/3期","‘22/3期"],"range":[725,1101],"paddingInner":0.443,"paddingOuter":0.2215},"axis":{"orient":"bottom","zindex":1,"offset":-166,"labelPadding":2,"labelOffset":-3}},"y":{"field":"sales","type":"quantitative","axis":null,"scale":{"domain":[0,500],"range":[710,503.5],"nice":false}},"color":{"field":"period","type":"nominal","legend":null,"scale":{"domain":["’21/3期","‘22/3期"],"range":["#48C4FF","#008DD1"]}}}},
{"data":{"name":"sKr"},"mark":{"type":"text","style":"barlabel","color":"#262626","dy":-7.5},"encoding":{"x":{"field":"period","type":"nominal","axis":null,"scale":{"type":"band","domain":["’21/3期","‘22/3期"],"range":[725,1101],"paddingInner":0.443,"paddingOuter":0.2215}},"y":{"field":"sales","type":"quantitative","axis":null,"scale":{"domain":[0,500],"range":[710,503.5],"nice":false}},"text":{"field":"sales","format":","}}},
{"data":{"name":"lKr"},"mark":{"type":"text","style":"bul","color":"#404040","dx":-12,"text":"•"},"encoding":{"x":{"datum":0,"type":"quantitative","axis":null,"scale":{"domain":[0,1],"range":[740,907]}},"y":{"field":"segment","type":"nominal","axis":null,"scale":{"type":"point","domain":["車載：","産機：","民生：","通信：","事務機："],"range":[762,864]}}}},
{"data":{"name":"lKr"},"mark":{"type":"text","style":"list","color":"#404040","dy":2},"encoding":{"x":{"datum":0,"type":"quantitative","axis":null,"scale":{"domain":[0,1],"range":[740,907]}},"y":{"field":"segment","type":"nominal","axis":null,"scale":{"type":"point","domain":["車載：","産機：","民生：","通信：","事務機："],"range":[762,864]}},"text":{"field":"segment"}}},
{"data":{"name":"lKr"},"mark":{"type":"text","style":"val","color":"#404040","dy":1},"encoding":{"x":{"datum":1,"type":"quantitative","axis":null,"scale":{"domain":[0,1],"range":[740,907]}},"y":{"field":"segment","type":"nominal","axis":null,"scale":{"type":"point","domain":["車載：","産機：","民生：","通信：","事務機："],"range":[762,864]}},"text":{"field":"change"}}},

{"data":{"values":[{"note":"©  2021 ROHM Co., Ltd."}]},"mark":{"type":"text","style":"note","color":"#404040","font":"Liberation Sans","fontSize":19},"encoding":{"x":{"datum":0.87,"type":"quantitative","axis":null,"scale":{"domain":[0,100],"range":[0,1966]}},"y":{"datum":98.2,"type":"quantitative","axis":null,"scale":{"domain":[0,100],"range":[0,876]}},"text":{"field":"note"}}},
{"data":{"values":[{"note":"※取引先企業の国籍別"}]},"mark":{"type":"text","style":"note","color":"#404040"},"encoding":{"x":{"datum":90.1,"type":"quantitative","axis":null,"scale":{"domain":[0,100],"range":[0,1966]}},"y":{"datum":80.9,"type":"quantitative","axis":null,"scale":{"domain":[0,100],"range":[0,876]}},"text":{"field":"note"}}},
{"data":{"values":[{"note":"("}]},"mark":{"type":"text","style":"note","color":"#404040"},"encoding":{"x":{"datum":99.7,"type":"quantitative","axis":null,"scale":{"domain":[0,100],"range":[0,1966]}},"y":{"datum":84,"type":"quantitative","axis":null,"scale":{"domain":[0,100],"range":[0,876]}},"text":{"field":"note"}}},
{"data":{"values":[{"note":"※業種分類：現在の"}]},"mark":{"type":"text","style":"note","color":"#404040"},"encoding":{"x":{"datum":91.3,"type":"quantitative","axis":null,"scale":{"domain":[0,100],"range":[0,1966]}},"y":{"datum":89.1,"type":"quantitative","axis":null,"scale":{"domain":[0,100],"range":[0,876]}},"text":{"field":"note"}}},
{"data":{"values":[{"note":"top rule"}]},"mark":{"type":"rule","stroke":"#333333","strokeWidth":2},"encoding":{"x":{"datum":0,"type":"quantitative","axis":null,"scale":{"domain":[0,100],"range":[0,1966]}},"x2":{"datum":10},"y":{"datum":0,"type":"quantitative","axis":null,"scale":{"domain":[0,100],"range":[0,876]}}}}
]}
